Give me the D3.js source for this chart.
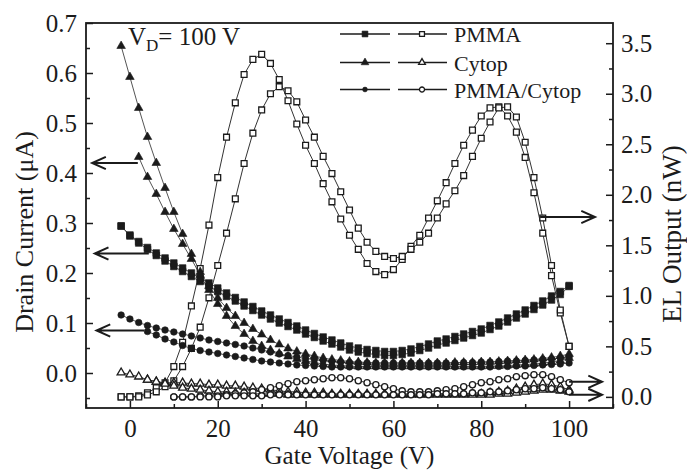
<!DOCTYPE html>
<html>
<head>
<meta charset="utf-8">
<script src="https://cdn.jsdelivr.net/npm/d3@7"></script>
<style>
    body { margin: 0; background: #fff; }
    svg { display: block; }
</style>
</head>
<body>
<div id="chart"></div>
<script>
/*global d3*/

// gate voltage sweep, 2 V steps
var gateV = [
    -2, 0, 2, 4, 6, 8, 10, 12, 14, 16, 18, 20, 22,
    24, 26, 28, 30, 32, 34, 36, 38, 40, 42, 44, 46, 48,
    50, 52, 54, 56, 58, 60, 62, 64, 66, 68, 70, 72, 74,
    76, 78, 80, 82, 84, 86, 88, 90, 92, 94, 96, 98, 100
];

// drain current (uA), two sweep directions each
var pmmaIdFwd = [
    0.294, 0.274, 0.260, 0.247, 0.235, 0.224, 0.213, 0.203, 0.193, 0.183, 0.173, 0.163, 0.153,
    0.144, 0.134, 0.125, 0.116, 0.108, 0.100, 0.093, 0.086, 0.078, 0.071, 0.064, 0.058, 0.052,
    0.046, 0.042, 0.039, 0.037, 0.035, 0.035, 0.037, 0.040, 0.045, 0.050, 0.056, 0.060, 0.065,
    0.070, 0.075, 0.080, 0.087, 0.094, 0.102, 0.110, 0.118, 0.127, 0.136, 0.146, 0.157, 0.173
];
var pmmaIdRev = [
    0.294, 0.276, 0.263, 0.251, 0.240, 0.230, 0.220, 0.210, 0.200, 0.190, 0.180, 0.170, 0.160,
    0.151, 0.142, 0.133, 0.124, 0.116, 0.108, 0.101, 0.094, 0.086, 0.079, 0.072, 0.066, 0.060,
    0.054, 0.050, 0.047, 0.045, 0.043, 0.043, 0.045, 0.048, 0.053, 0.058, 0.064, 0.068, 0.073,
    0.078, 0.083, 0.088, 0.095, 0.102, 0.110, 0.118, 0.126, 0.135, 0.144, 0.154, 0.163, 0.175
];
var cytopIdFwd = [
    0.654, 0.592, 0.530, 0.472, 0.420, 0.370, 0.322, 0.278, 0.238, 0.202, 0.174, 0.150, 0.130,
    0.114, 0.100, 0.088, 0.077, 0.066, 0.057, 0.049, 0.043, 0.038, 0.034, 0.030, 0.027, 0.025,
    0.023, 0.022, 0.021, 0.020, 0.020, 0.020, 0.020, 0.020, 0.020, 0.020, 0.020, 0.020, 0.021,
    0.021, 0.021, 0.022, 0.022, 0.023, 0.024, 0.025, 0.026, 0.027, 0.029, 0.031, 0.034, 0.038
];
var cytopIdRev = [
    null, null, 0.432, 0.392, 0.358, 0.322, 0.288, 0.258, 0.228, 0.196, 0.166, 0.138, 0.114,
    0.094, 0.078, 0.064, 0.054, 0.046, 0.039, 0.033, 0.028, 0.024, 0.021, 0.018, 0.016, 0.015,
    0.014, 0.013, 0.013, 0.013, 0.013, 0.013, 0.013, 0.013, 0.013, 0.013, 0.013, 0.013, 0.013,
    0.013, 0.013, 0.013, 0.014, 0.014, 0.015, 0.016, 0.017, 0.018, 0.020, 0.022, 0.025, 0.030
];
var bilayerIdFwd = [
    0.116, 0.108, 0.101, 0.095, 0.090, 0.086, 0.082, 0.078, 0.074, 0.070, 0.066, 0.063, 0.060,
    0.057, 0.054, 0.050, 0.046, 0.042, 0.038, 0.035, 0.032, 0.029, 0.027, 0.025, 0.023, 0.022,
    0.021, 0.020, 0.020, 0.020, 0.020, 0.020, 0.020, 0.020, 0.020, 0.020, 0.020, 0.020, 0.020,
    0.021, 0.021, 0.022, 0.022, 0.023, 0.024, 0.024, 0.025, 0.026, 0.027, 0.028, 0.030, 0.032
];
var bilayerIdRev = [
    null, null, null, 0.083, 0.076, 0.068, 0.062, 0.055, 0.049, 0.045, 0.042, 0.039, 0.036,
    0.033, 0.030, 0.027, 0.024, 0.022, 0.020, 0.018, 0.016, 0.015, 0.014, 0.013, 0.012, 0.012,
    0.012, 0.012, 0.012, 0.012, 0.012, 0.012, 0.012, 0.012, 0.012, 0.012, 0.012, 0.012, 0.012,
    0.012, 0.012, 0.012, 0.012, 0.013, 0.013, 0.014, 0.014, 0.015, 0.016, 0.017, 0.018, 0.020
];

// EL output (nW)
var pmmaElFwd = [
    0.00, 0.00, 0.01, 0.04, 0.09, 0.14, 0.30, 0.54, 0.90, 1.27, 1.70, 2.17, 2.57,
    2.91, 3.19, 3.34, 3.39, 3.30, 3.14, 2.93, 2.70, 2.49, 2.31, 2.11, 1.93, 1.76,
    1.60, 1.46, 1.32, 1.24, 1.21, 1.26, 1.36, 1.49, 1.60, 1.77, 1.94, 2.12, 2.31,
    2.49, 2.64, 2.78, 2.86, 2.87, 2.78, 2.62, 2.37, 2.02, 1.62, 1.20, 0.83, 0.50
];
var pmmaElRev = [
    0.00, 0.00, 0.00, 0.02, 0.05, 0.10, 0.16, 0.30, 0.48, 0.69, 0.98, 1.30, 1.62,
    1.96, 2.31, 2.61, 2.84, 3.00, 3.07, 3.03, 2.92, 2.74, 2.57, 2.38, 2.21, 2.03,
    1.85, 1.67, 1.53, 1.44, 1.39, 1.37, 1.39, 1.46, 1.53, 1.62, 1.77, 1.91, 2.04,
    2.19, 2.38, 2.56, 2.72, 2.86, 2.87, 2.77, 2.52, 2.17, 1.77, 1.30, 0.86, 0.50
];
var cytopElFwd = [
    0.24, 0.22, 0.20, 0.17, 0.15, 0.14, 0.14, 0.14, 0.13, 0.13, 0.12, 0.12, 0.11,
    0.11, 0.10, 0.09, 0.08, 0.07, 0.06, 0.05, 0.05, 0.04, 0.04, 0.04, 0.03, 0.03,
    0.03, 0.03, 0.03, 0.03, 0.03, 0.03, 0.03, 0.03, 0.03, 0.03, 0.03, 0.03, 0.03,
    0.03, 0.03, 0.03, 0.04, 0.05, 0.06, 0.08, 0.10, 0.12, 0.13, 0.12, 0.10, 0.07
];
var cytopElRev = [
    null, null, null, 0.17, 0.15, 0.13, 0.11, 0.09, 0.08, 0.07, 0.06, 0.05, 0.05,
    0.04, 0.04, 0.03, 0.03, 0.03, 0.03, 0.02, 0.02, 0.02, 0.02, 0.02, 0.02, 0.02,
    0.02, 0.02, 0.02, 0.02, 0.02, 0.02, 0.02, 0.02, 0.02, 0.02, 0.02, 0.02, 0.02,
    0.02, 0.02, 0.02, 0.02, 0.03, 0.03, 0.04, 0.05, 0.06, 0.07, 0.07, 0.06, 0.05
];
var bilayerElFwd = [
    null, null, null, null, null, null, 0.00, 0.00, 0.00, 0.01, 0.01, 0.01, 0.02,
    0.03, 0.04, 0.05, 0.07, 0.09, 0.11, 0.13, 0.15, 0.16, 0.17, 0.18, 0.19, 0.19,
    0.18, 0.16, 0.14, 0.12, 0.10, 0.08, 0.06, 0.05, 0.05, 0.05, 0.06, 0.07, 0.08,
    0.10, 0.12, 0.14, 0.15, 0.17, 0.18, 0.20, 0.21, 0.22, 0.22, 0.20, 0.17, 0.14
];
var bilayerElRev = [
    null, null, null, null, null, null, 0.00, 0.00, 0.00, 0.00, 0.00, 0.00, 0.01,
    0.01, 0.01, 0.01, 0.01, 0.02, 0.02, 0.02, 0.02, 0.02, 0.02, 0.02, 0.02, 0.02,
    0.02, 0.02, 0.02, 0.02, 0.02, 0.02, 0.02, 0.02, 0.02, 0.02, 0.03, 0.03, 0.03,
    0.03, 0.04, 0.04, 0.05, 0.05, 0.06, 0.07, 0.08, 0.08, 0.09, 0.08, 0.07, 0.05
];

var dielectrics = ['PMMA', 'Cytop', 'PMMA/Cytop'];
var xTicks = [0, 20, 40, 60, 80, 100];
var xMinorTicks = [-10, 10, 30, 50, 70, 90, 110];
var leftTicks = [0.0, 0.1, 0.2, 0.3, 0.4, 0.5, 0.6, 0.7];
var leftMinorTicks = [-0.05, 0.05, 0.15, 0.25, 0.35, 0.45, 0.55, 0.65];
var rightTicks = [0.0, 0.5, 1.0, 1.5, 2.0, 2.5, 3.0, 3.5];
var rightMinorTicks = [0.25, 0.75, 1.25, 1.75, 2.25, 2.75, 3.25];

// arrows point each curve to its axis (data units of that axis)
var arrowNotes = [
    {axis: 'left', from: [1.8, 0.42], to: [-8.6, 0.42]},
    {axis: 'left', from: [4.3, 0.239], to: [-8.0, 0.239]},
    {axis: 'left', from: [3.2, 0.085], to: [-7.6, 0.085]},
    {axis: 'right', from: [93.4, 1.78], to: [105.9, 1.78]},
    {axis: 'right', from: [100, 0.15], to: [107.5, 0.15]},
    {axis: 'right', from: [100, 0.02], to: [107.5, 0.02]}
];

(function () {
    'use strict';

    var width = 687,
        height = 471,
        plot = {left: 86, right: 613, top: 23, bottom: 408},
        font = '"Liberation Serif", "Times New Roman", Times, serif',
        ink = '#1b1b1b',

        svg = d3.select('#chart')
            .append('svg')
            .attr('width', width)
            .attr('height', height)
            .style('font-family', font),

        x = d3.scaleLinear().domain([-10, 110]).range([plot.left, plot.right]),
        yLeft = d3.scaleLinear().domain([-0.07, 0.7]).range([plot.bottom, plot.top]),
        yRight = d3.scaleLinear().domain([-0.11, 3.7]).range([plot.bottom, plot.top]),

        shapes = {
            square: d3.symbolSquare,
            triangle: d3.symbolTriangle,
            circle: d3.symbolCircle
        },
        // marker areas for data and legend
        sizes = {
            filled: {square: 44, triangle: 32, circle: 34},
            open: {square: 34, triangle: 28, circle: 30},
            legendFilled: {square: 34, triangle: 26, circle: 18},
            legendOpen: {square: 24, triangle: 20, circle: 20}
        },

        series = [
            {axis: 'right', shape: 'square', filled: false, values: pmmaElFwd},
            {axis: 'right', shape: 'square', filled: false, values: pmmaElRev},
            {axis: 'right', shape: 'triangle', filled: false, values: cytopElFwd},
            {axis: 'right', shape: 'triangle', filled: false, values: cytopElRev},
            {axis: 'right', shape: 'circle', filled: false, values: bilayerElFwd},
            {axis: 'right', shape: 'circle', filled: false, values: bilayerElRev},
            {axis: 'left', shape: 'square', filled: true, values: pmmaIdFwd},
            {axis: 'left', shape: 'square', filled: true, values: pmmaIdRev},
            {axis: 'left', shape: 'triangle', filled: true, values: cytopIdFwd},
            {axis: 'left', shape: 'triangle', filled: true, values: cytopIdRev},
            {axis: 'left', shape: 'circle', filled: true, values: bilayerIdFwd},
            {axis: 'left', shape: 'circle', filled: true, values: bilayerIdRev}
        ],
        legendShapes = ['square', 'triangle', 'circle'];

    function yFor(axis) {
        return axis === 'left' ? yLeft : yRight;
    }

    function points(s) {
        return gateV.map(function (v, i) {
            return {x: v, y: s.values[i]};
        }).filter(function (d) {
            return d.y !== null;
        });
    }

    function styleAxis(g) {
        g.attr('font-family', font);
        g.select('.domain').remove();
        g.selectAll('line')
            .attr('stroke', ink)
            .attr('stroke-width', 1.5);
        g.selectAll('text')
            .attr('font-family', font)
            .attr('font-size', 25)
            .attr('fill', ink);
    }

    function marker(sel, shape, filled, size) {
        sel.attr('d', d3.symbol().type(shapes[shape]).size(size))
            .attr('fill', filled ? ink : '#fff')
            .attr('stroke', ink)
            .attr('stroke-width', filled ? 0.6 : 1.3);
    }

    // axes, ticks pointing inward
    svg.append('g')
        .attr('transform', 'translate(0,' + plot.bottom + ')')
        .call(d3.axisBottom(x).tickValues(xTicks).tickFormat(d3.format('d'))
            .tickSize(-7).tickPadding(11))
        .call(styleAxis);
    svg.append('g')
        .attr('transform', 'translate(0,' + plot.bottom + ')')
        .call(d3.axisBottom(x).tickValues(xMinorTicks).tickFormat('').tickSize(-4))
        .call(styleAxis);

    svg.append('g')
        .attr('transform', 'translate(' + plot.left + ',0)')
        .call(d3.axisLeft(yLeft).tickValues(leftTicks).tickFormat(d3.format('.1f'))
            .tickSize(-7).tickPadding(9))
        .call(styleAxis);
    svg.append('g')
        .attr('transform', 'translate(' + plot.left + ',0)')
        .call(d3.axisLeft(yLeft).tickValues(leftMinorTicks).tickFormat('').tickSize(-4))
        .call(styleAxis);

    svg.append('g')
        .attr('transform', 'translate(' + plot.right + ',0)')
        .call(d3.axisRight(yRight).tickValues(rightTicks).tickFormat(d3.format('.1f'))
            .tickSize(-7).tickPadding(8))
        .call(styleAxis);
    svg.append('g')
        .attr('transform', 'translate(' + plot.right + ',0)')
        .call(d3.axisRight(yRight).tickValues(rightMinorTicks).tickFormat('').tickSize(-4))
        .call(styleAxis);

    svg.append('rect')
        .attr('x', plot.left)
        .attr('y', plot.top)
        .attr('width', plot.right - plot.left)
        .attr('height', plot.bottom - plot.top)
        .attr('fill', 'none')
        .attr('stroke', ink)
        .attr('stroke-width', 1.8);

    // connecting lines
    series.forEach(function (s) {
        var y = yFor(s.axis);
        svg.append('path')
            .datum(points(s))
            .attr('d', d3.line()
                .x(function (d) { return x(d.x); })
                .y(function (d) { return y(d.y); }))
            .attr('fill', 'none')
            .attr('stroke', s.filled ? '#555' : '#333')
            .attr('stroke-width', 1);
    });

    // markers
    series.forEach(function (s) {
        var y = yFor(s.axis);
        svg.append('g')
            .selectAll('path')
            .data(points(s))
            .join('path')
            .attr('transform', function (d) {
                return 'translate(' + x(d.x) + ',' + y(d.y) + ')';
            })
            .call(marker, s.shape, s.filled,
                sizes[s.filled ? 'filled' : 'open'][s.shape]);
    });

    // arrows
    arrowNotes.forEach(function (a) {
        var y = yFor(a.axis),
            x1 = x(a.from[0]), y1 = y(a.from[1]),
            x2 = x(a.to[0]), y2 = y(a.to[1]),
            ang = Math.atan2(y1 - y2, x1 - x2),
            len = 15,
            spread = 0.42;
        svg.append('path')
            .attr('d', 'M' + x1 + ',' + y1 + 'L' + x2 + ',' + y2 +
                'M' + (x2 + len * Math.cos(ang + spread)) + ',' + (y2 + len * Math.sin(ang + spread)) +
                'L' + x2 + ',' + y2 +
                'L' + (x2 + len * Math.cos(ang - spread)) + ',' + (y2 + len * Math.sin(ang - spread)))
            .attr('fill', 'none')
            .attr('stroke', ink)
            .attr('stroke-width', 2);
    });

    // legend
    dielectrics.forEach(function (name, i) {
        var rowY = [34, 62.5, 89.5][i],
            row = svg.append('g');
        row.append('line')
            .attr('x1', 340).attr('x2', 390).attr('y1', rowY).attr('y2', rowY)
            .attr('stroke', ink).attr('stroke-width', 1.4);
        row.append('line')
            .attr('x1', 398).attr('x2', 447).attr('y1', rowY).attr('y2', rowY)
            .attr('stroke', ink).attr('stroke-width', 1.4);
        row.append('path')
            .attr('transform', 'translate(365,' + rowY + ')')
            .call(marker, legendShapes[i], true, sizes.legendFilled[legendShapes[i]]);
        row.append('path')
            .attr('transform', 'translate(422,' + rowY + ')')
            .call(marker, legendShapes[i], false, sizes.legendOpen[legendShapes[i]]);
        row.append('text')
            .attr('x', 454)
            .attr('y', rowY + 8)
            .attr('font-size', 22)
            .attr('fill', ink)
            .text(name);
    });

    // drain bias note
    var note = svg.append('text')
        .attr('x', 128)
        .attr('y', 45)
        .attr('font-size', 25)
        .attr('fill', ink);
    note.append('tspan').text('V');
    note.append('tspan').attr('font-size', 17).attr('dy', 6).text('D');
    note.append('tspan').attr('dy', -6).text('= 100 V');

    // axis titles
    svg.append('text')
        .attr('x', (plot.left + plot.right) / 2)
        .attr('y', 464)
        .attr('text-anchor', 'middle')
        .attr('font-size', 25)
        .attr('fill', ink)
        .text('Gate Voltage (V)');

    svg.append('text')
        .attr('transform', 'translate(33,232) rotate(-90)')
        .attr('text-anchor', 'middle')
        .attr('font-size', 26)
        .attr('fill', ink)
        .text('Drain Current (\u03BCA)');

    svg.append('text')
        .attr('transform', 'translate(681,234) rotate(-90)')
        .attr('text-anchor', 'middle')
        .attr('font-size', 27)
        .attr('fill', ink)
        .text('EL Output (nW)');
}());
</script>
</body>
</html>
